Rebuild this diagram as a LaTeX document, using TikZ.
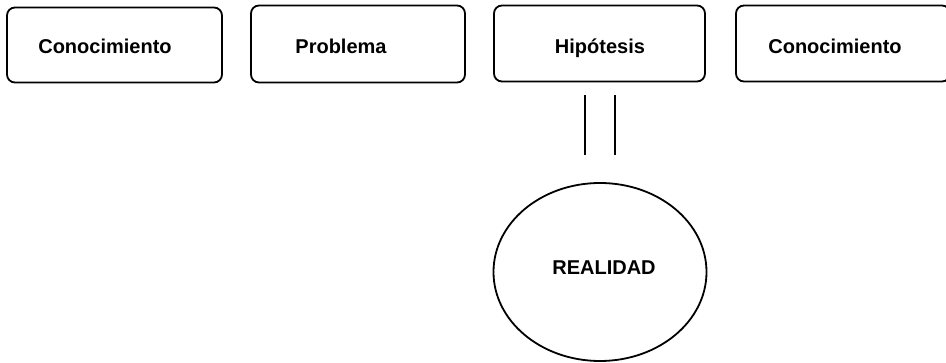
\documentclass[tikz,border=0pt]{standalone}
\usepackage{fontspec}
\setmainfont{Liberation Sans}
\usetikzlibrary{shapes.geometric}
\begin{document}
\begin{tikzpicture}[x=1pt,y=-1pt,
  box/.style={draw, line width=1.8pt, rounded corners=8pt, inner sep=0pt},
  lbl/.style={font=\bfseries\fontsize{20}{22}\selectfont, inner sep=0pt, anchor=base},
  bar/.style={line width=1.8pt}]
\useasboundingbox (0,0) rectangle (946,363);
\node[box, minimum width=215pt, minimum height=75pt] (b1) at (114.5,45) {};
\node[box, minimum width=214pt, minimum height=77pt] (b2) at (358,44) {};
\node[box, minimum width=211pt, minimum height=76pt] (b3) at (599.5,43.5) {};
\node[box, minimum width=214pt, minimum height=76pt] (b4) at (843,43.5) {};
\node[lbl] (t1) at (105,53.5) {Conocimiento};
\node[lbl] (t2) at (341,53.5) {Problema};
\node[lbl] (t3) at (600,53.5) {Hipótesis};
\node[lbl] (t4) at (835,53.5) {Conocimiento};
\node[draw, ellipse, line width=1.8pt, minimum width=213pt, minimum height=178pt, inner sep=0pt] (r) at (600,272) {};
\node[lbl] (rt) at (604,274.5) {REALIDAD};
\coordinate (l1a) at (585,95);
\coordinate (l1b) at (585,155);
\coordinate (l2a) at (615,95);
\coordinate (l2b) at (615,155);
\draw[bar] (l1a) -- (l1b);
\draw[bar] (l2a) -- (l2b);
\end{tikzpicture}
\end{document}
